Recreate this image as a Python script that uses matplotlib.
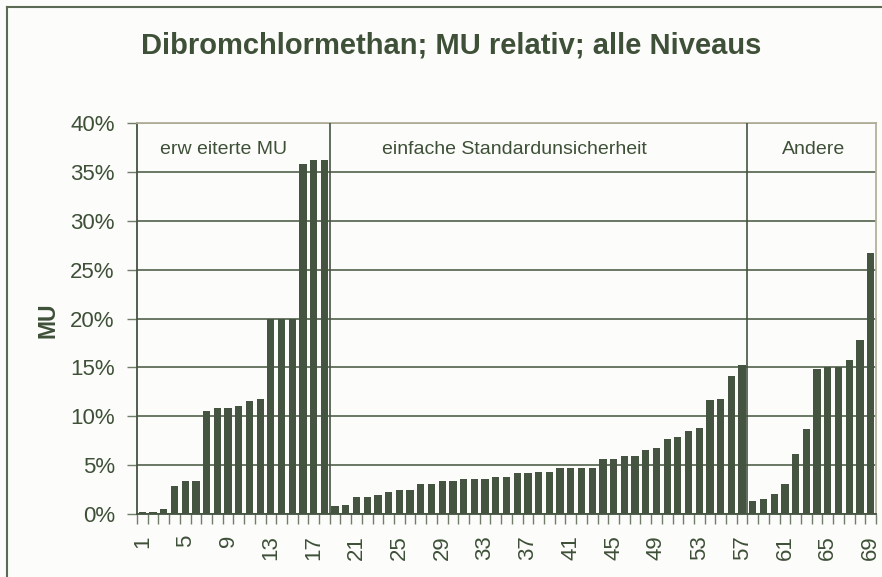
import numpy as np
import matplotlib
matplotlib.use("Agg")
import matplotlib.pyplot as plt
from matplotlib.ticker import PercentFormatter, FixedLocator

plt.rcParams['font.family'] = ['Liberation Sans', 'DejaVu Sans']

# MU relativ in %, drei Gruppen
mu_erweitert = [0.2, 0.2, 0.55, 2.85, 3.35, 3.35, 10.5, 10.9, 10.9, 11.1, 11.6, 11.8,
                20.0, 20.0, 20.0, 35.8, 36.2, 36.2]
mu_einfach = [0.8, 0.95, 1.78, 1.78, 1.92, 2.3, 2.5, 2.5, 3.08, 3.08, 3.39, 3.39,
              3.6, 3.6, 3.6, 3.8, 3.8, 4.2, 4.2, 4.33, 4.33, 4.68, 4.68, 4.68, 4.68,
              5.63, 5.63, 6.0, 6.0, 6.55, 6.76, 7.68, 7.88, 8.46, 8.8, 11.64, 11.8,
              14.1, 15.2]
mu_andere = [1.33, 1.6, 2.1, 3.09, 6.2, 8.7, 14.84, 15.04, 15.04, 15.76, 17.83, 26.7]
gruppen = ["erw eiterte MU", "einfache Standardunsicherheit", "Andere"]
yticks = [0, 5, 10, 15, 20, 25, 30, 35, 40]

werte = mu_erweitert + mu_einfach + mu_andere
nr = np.arange(1, len(werte) + 1)

gruen = '#445440'
text_c = '#3e5038'
bg = '#fcfcfa'

fig = plt.figure(figsize=(8.82, 5.77), dpi=100, facecolor=bg)
ax = fig.add_axes([0.1553, 0.1087, 0.9932 - 0.1553, 0.7873 - 0.1087])
ax.set_facecolor(bg)

ax.bar(nr, werte, width=0.68, color=gruen, zorder=3)

ax.set_xlim(0.5, len(werte) + 0.5)
ax.set_ylim(0, 40)
ax.set_yticks(yticks)
ax.yaxis.set_major_formatter(PercentFormatter(xmax=100, decimals=0))
ax.grid(axis='y', color='#5e6d58', linewidth=1.3)
ax.set_axisbelow(True)

# Striche zwischen den Balken, Beschriftung jede 4. Nummer
ax.set_xticks(np.arange(0.5, len(werte) + 1, 1.0))
ax.set_xticklabels([])
ax.xaxis.set_minor_locator(FixedLocator(nr[::4]))
ax.set_xticklabels([str(n) for n in nr[::4]], minor=True, rotation=90)
ax.tick_params(axis='x', which='major', length=7, color='#6f7d6a', width=1)
ax.tick_params(axis='x', which='minor', length=0, pad=15, labelsize=16, labelcolor=text_c)
ax.tick_params(axis='y', length=7, color='#6f7d6a', width=1, pad=9, labelsize=16, labelcolor=text_c)

ax.spines['left'].set_color(gruen)
ax.spines['bottom'].set_color(gruen)
ax.spines['top'].set_color('#b3b19c')
ax.spines['right'].set_color('#b3b19c')
for s in ax.spines.values():
    s.set_linewidth(1.3)

# Trennlinien der Gruppen
g1 = len(mu_erweitert)
g2 = g1 + len(mu_einfach)
ax.vlines([g1 + 0.5, g2 + 0.5], 0, 40, color=gruen, linewidth=1.2, zorder=4)

ax.text(8.6, 37.3, gruppen[0], ha='center', va='center', fontsize=14, color=text_c)
ax.text(35.7, 37.3, gruppen[1], ha='center', va='center', fontsize=14, color=text_c)
ax.text(63.7, 37.3, gruppen[2], ha='center', va='center', fontsize=14, color=text_c)

ax.set_ylabel('MU', fontsize=16.5, fontweight='bold', color=text_c)
ax.yaxis.set_label_coords(59 / 882, 1 - 320.5 / 577, transform=fig.transFigure)

fig.text(451 / 882, 1 - 45 / 577, 'Dibromchlormethan; MU relativ; alle Niveaus',
         ha='center', va='center', fontsize=21, fontweight='bold', color=text_c)

# Rahmen des Diagrammbereichs
fig.add_artist(plt.Line2D([7 / 882, 7 / 882], [0, 1 - 7 / 577], color='#5a6a55', linewidth=1.5))
fig.add_artist(plt.Line2D([7 / 882, 1], [1 - 7 / 577, 1 - 7 / 577], color='#5a6a55', linewidth=1.5))

fig.savefig('out.png', dpi=100, facecolor=bg)
